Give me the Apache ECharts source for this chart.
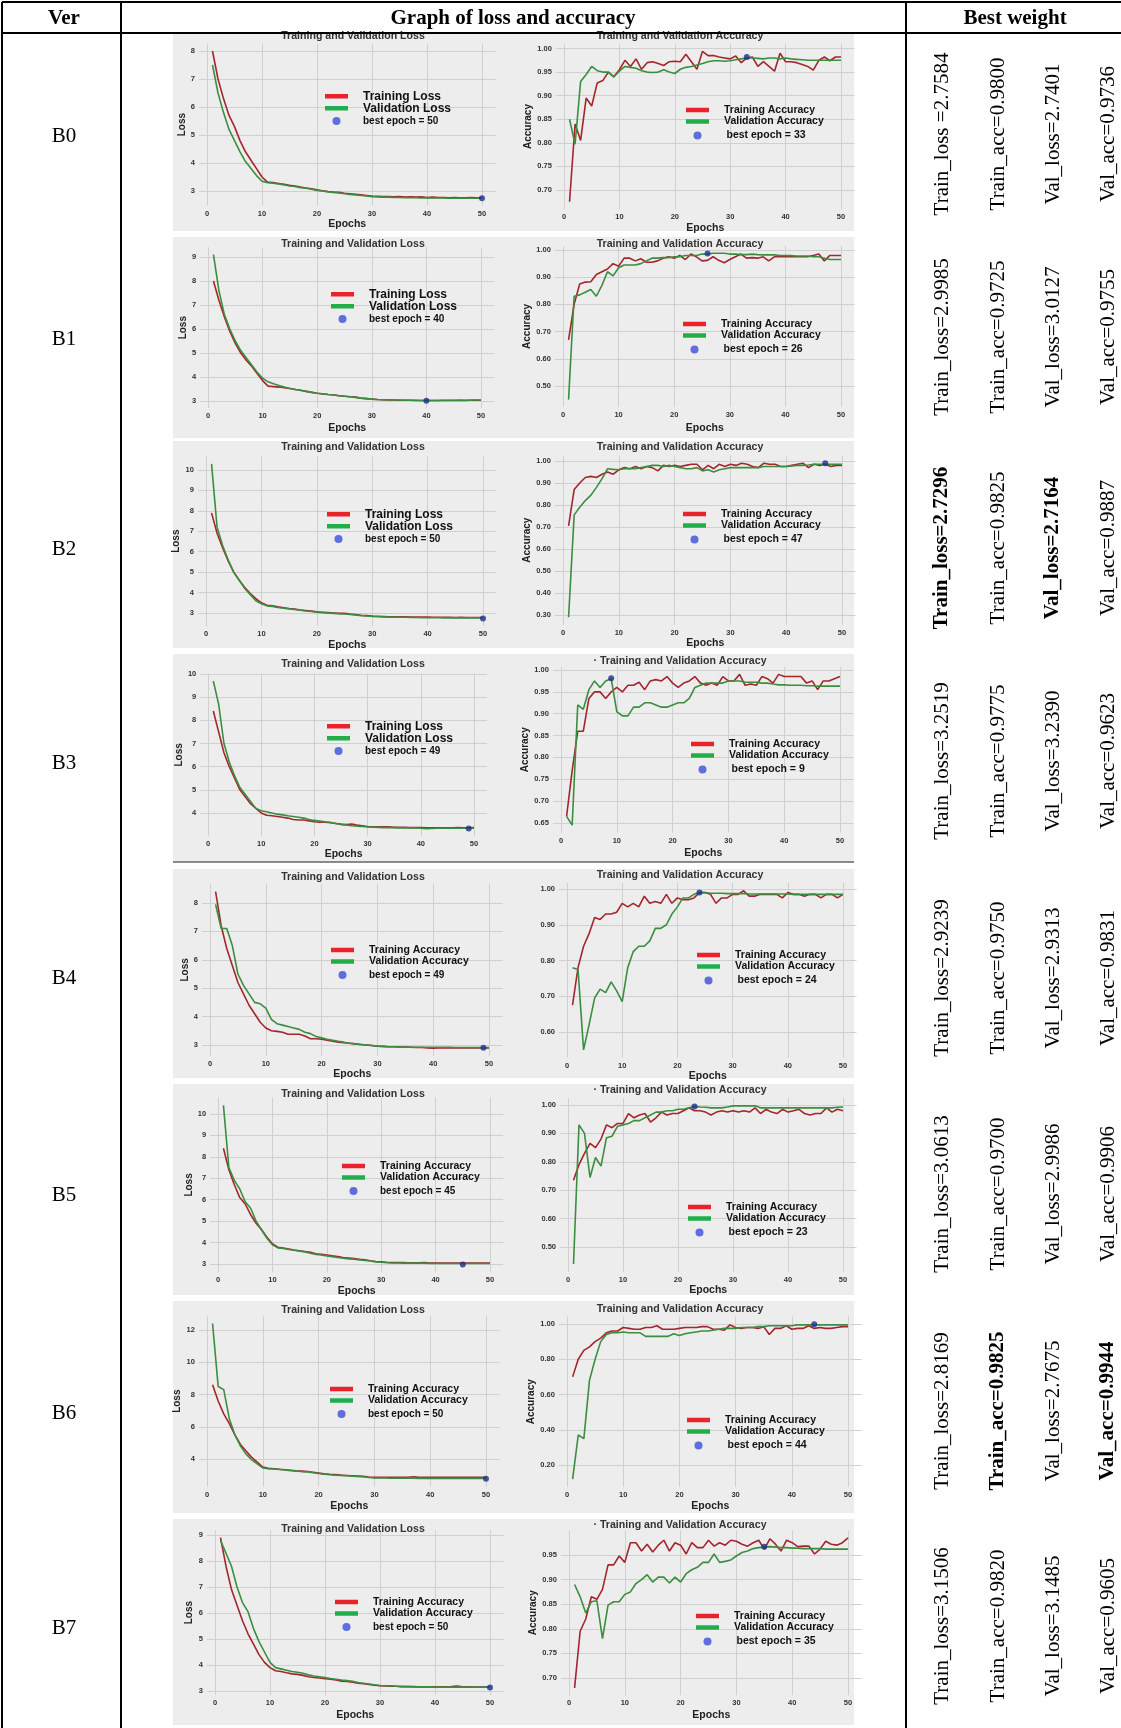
<!DOCTYPE html>
<html><head><meta charset="utf-8">
<script src="https://cdn.jsdelivr.net/npm/echarts@6/dist/echarts.min.js"></script>
<style>html,body{margin:0;padding:0;background:#fff}#c{width:1121px;height:1728px}</style>
</head><body><div id="c"></div>
<script>
// ---------------- data ----------------
const epochs = [1,2,3,4,5,6,7,8,9,10,11,12,13,14,15,16,17,18,19,20,21,22,23,24,25,26,27,28,29,30,31,32,33,34,35,36,37,38,39,40,41,42,43,44,45,46,47,48,49,50];
const versions = ['B0','B1','B2','B3','B4','B5','B6','B7'];
const xTicks = [0,10,20,30,40,50];

const b0TrainLoss = [8.0,7.0,6.3,5.7,5.3,4.8,4.4,4.1,3.8,3.5,3.32,3.3,3.27,3.24,3.2,3.18,3.14,3.11,3.08,3.04,3.01,2.98,2.96,2.95,2.92,2.9,2.88,2.86,2.84,2.82,2.81,2.8,2.8,2.79,2.8,2.78,2.79,2.78,2.79,2.77,2.78,2.77,2.77,2.76,2.77,2.76,2.76,2.77,2.76,2.76];
const b0ValLoss = [7.5,6.5,5.8,5.2,4.8,4.4,4.05,3.8,3.55,3.35,3.3,3.28,3.25,3.22,3.18,3.16,3.12,3.1,3.06,3.02,3.0,2.97,2.95,2.93,2.9,2.88,2.86,2.84,2.82,2.8,2.79,2.78,2.78,2.77,2.77,2.76,2.76,2.76,2.75,2.75,2.75,2.75,2.75,2.74,2.74,2.74,2.74,2.74,2.74,2.74];
const b0TrainAcc = [0.675,0.84,0.805,0.895,0.878,0.927,0.932,0.95,0.94,0.955,0.975,0.962,0.978,0.956,0.97,0.972,0.968,0.964,0.972,0.973,0.972,0.988,0.972,0.956,0.994,0.985,0.985,0.982,0.98,0.978,0.984,0.97,0.98,0.982,0.962,0.972,0.962,0.952,0.99,0.972,0.972,0.97,0.966,0.962,0.954,0.975,0.982,0.974,0.982,0.982];
const b0ValAcc = [0.85,0.797,0.93,0.945,0.962,0.953,0.95,0.95,0.94,0.952,0.962,0.96,0.958,0.953,0.95,0.949,0.95,0.955,0.95,0.947,0.956,0.96,0.962,0.965,0.968,0.972,0.974,0.974,0.973,0.974,0.976,0.978,0.98,0.98,0.979,0.978,0.98,0.98,0.978,0.98,0.978,0.977,0.976,0.975,0.975,0.975,0.975,0.975,0.975,0.975];

const b1TrainLoss = [8.0,7.2,6.5,5.9,5.4,5.0,4.7,4.45,4.15,3.85,3.62,3.6,3.58,3.55,3.52,3.48,3.45,3.4,3.36,3.32,3.29,3.27,3.26,3.22,3.2,3.18,3.16,3.12,3.1,3.08,3.06,3.05,3.04,3.04,3.03,3.03,3.03,3.02,3.02,3.02,3.02,3.02,3.02,3.02,3.02,3.03,3.02,3.03,3.03,3.03];
const b1ValLoss = [9.1,7.6,6.6,6.0,5.5,5.1,4.8,4.5,4.2,3.95,3.8,3.72,3.65,3.58,3.52,3.48,3.44,3.4,3.36,3.32,3.3,3.27,3.25,3.22,3.2,3.18,3.15,3.12,3.1,3.08,3.06,3.05,3.05,3.04,3.04,3.03,3.03,3.03,3.02,3.02,3.02,3.02,3.03,3.03,3.03,3.03,3.03,3.03,3.04,3.04];
const b1TrainAcc = [0.67,0.8,0.875,0.882,0.883,0.91,0.92,0.93,0.95,0.94,0.97,0.97,0.96,0.968,0.955,0.955,0.96,0.97,0.975,0.97,0.98,0.965,0.985,0.975,0.96,0.962,0.975,0.962,0.953,0.965,0.975,0.985,0.97,0.972,0.97,0.975,0.96,0.975,0.975,0.975,0.975,0.975,0.975,0.975,0.98,0.985,0.96,0.98,0.98,0.98];
const b1ValAcc = [0.45,0.83,0.835,0.845,0.855,0.83,0.87,0.92,0.905,0.935,0.945,0.945,0.945,0.95,0.96,0.97,0.97,0.972,0.972,0.975,0.975,0.98,0.98,0.98,0.985,0.985,0.988,0.988,0.988,0.985,0.985,0.983,0.983,0.985,0.983,0.982,0.982,0.982,0.98,0.98,0.98,0.978,0.978,0.978,0.975,0.975,0.97,0.965,0.965,0.965];

const b2TrainLoss = [7.9,6.9,6.2,5.55,5.0,4.6,4.25,3.95,3.7,3.5,3.38,3.35,3.3,3.26,3.22,3.19,3.15,3.12,3.09,3.06,3.04,3.02,3.0,2.98,2.99,2.95,2.92,2.89,2.87,2.85,2.84,2.83,2.82,2.82,2.81,2.81,2.8,2.8,2.8,2.8,2.79,2.79,2.79,2.79,2.78,2.79,2.78,2.78,2.78,2.78];
const b2ValLoss = [10.3,7.2,6.3,5.6,5.0,4.6,4.2,3.9,3.6,3.45,3.35,3.32,3.27,3.23,3.2,3.17,3.14,3.1,3.07,3.04,3.02,3.0,2.98,2.96,2.95,2.93,2.9,2.87,2.85,2.83,2.82,2.81,2.8,2.8,2.79,2.79,2.78,2.78,2.77,2.77,2.77,2.77,2.76,2.76,2.76,2.76,2.76,2.76,2.76,2.76];
const b2TrainAcc = [0.705,0.87,0.9,0.925,0.93,0.925,0.94,0.95,0.94,0.96,0.97,0.965,0.975,0.965,0.975,0.97,0.955,0.98,0.975,0.98,0.975,0.98,0.985,0.985,0.96,0.98,0.965,0.985,0.975,0.985,0.98,0.99,0.985,0.975,0.97,0.99,0.985,0.985,0.975,0.975,0.98,0.985,0.99,0.97,0.985,0.98,0.985,0.975,0.98,0.98];
const b2ValAcc = [0.29,0.755,0.79,0.82,0.845,0.88,0.92,0.965,0.962,0.96,0.965,0.965,0.965,0.97,0.975,0.98,0.98,0.975,0.98,0.975,0.97,0.965,0.965,0.97,0.955,0.96,0.95,0.96,0.965,0.97,0.97,0.97,0.97,0.97,0.97,0.975,0.975,0.975,0.975,0.975,0.978,0.98,0.98,0.982,0.985,0.985,0.985,0.985,0.985,0.985];

const b3TrainLoss = [8.4,7.5,6.6,6.0,5.5,5.0,4.7,4.4,4.2,4.0,3.9,3.88,3.85,3.82,3.78,3.72,3.7,3.7,3.66,3.62,3.6,3.6,3.58,3.55,3.52,3.5,3.52,3.48,3.45,3.42,3.4,3.4,3.4,3.4,3.38,3.38,3.38,3.37,3.37,3.37,3.36,3.36,3.36,3.36,3.36,3.36,3.37,3.36,3.36,3.37];
const b3ValLoss = [9.7,8.7,7.0,6.2,5.6,5.1,4.8,4.5,4.2,4.1,4.05,4.0,3.95,3.92,3.88,3.85,3.82,3.78,3.72,3.68,3.65,3.62,3.6,3.55,3.5,3.48,3.45,3.43,3.42,3.4,3.39,3.38,3.37,3.37,3.37,3.36,3.36,3.36,3.35,3.34,3.32,3.33,3.34,3.34,3.34,3.34,3.34,3.34,3.34,3.34];
const b3TrainAcc = [0.665,0.77,0.86,0.86,0.935,0.95,0.95,0.935,0.95,0.96,0.95,0.965,0.965,0.972,0.955,0.975,0.978,0.975,0.985,0.97,0.96,0.97,0.975,0.985,0.97,0.965,0.97,0.965,0.985,0.975,0.975,0.99,0.965,0.968,0.965,0.985,0.98,0.97,0.99,0.985,0.985,0.985,0.985,0.97,0.975,0.955,0.975,0.975,0.98,0.985];
const b3ValAcc = [0.665,0.645,0.92,0.91,0.955,0.975,0.96,0.975,0.98,0.905,0.895,0.895,0.915,0.915,0.925,0.925,0.92,0.915,0.915,0.92,0.925,0.925,0.935,0.96,0.965,0.97,0.97,0.97,0.97,0.975,0.975,0.975,0.972,0.972,0.972,0.97,0.97,0.968,0.966,0.966,0.965,0.965,0.965,0.964,0.964,0.963,0.963,0.963,0.963,0.963];

const b4TrainLoss = [8.4,7.2,6.4,5.8,5.2,4.8,4.4,4.1,3.8,3.6,3.5,3.48,3.45,3.38,3.38,3.38,3.32,3.22,3.22,3.2,3.17,3.13,3.1,3.08,3.06,3.04,3.02,3.0,2.98,2.96,2.95,2.94,2.94,2.93,2.93,2.92,2.91,2.91,2.9,2.89,2.9,2.9,2.9,2.9,2.9,2.9,2.9,2.9,2.9,2.9];
const b4ValLoss = [7.95,7.1,7.1,6.5,5.5,5.1,4.8,4.5,4.45,4.3,3.9,3.75,3.7,3.65,3.6,3.55,3.45,3.4,3.3,3.25,3.2,3.17,3.13,3.1,3.06,3.04,3.02,3.0,2.98,2.96,2.95,2.94,2.94,2.93,2.93,2.92,2.92,2.92,2.92,2.92,2.92,2.92,2.92,2.91,2.91,2.91,2.91,2.91,2.91,2.91];
const b4TrainAcc = [0.675,0.78,0.84,0.875,0.92,0.915,0.93,0.93,0.935,0.96,0.95,0.96,0.95,0.98,0.96,0.965,0.96,0.985,0.96,0.975,0.97,0.97,0.975,0.99,0.99,0.985,0.96,0.975,0.975,0.985,0.985,0.995,0.98,0.98,0.985,0.985,0.985,0.985,0.975,0.99,0.985,0.985,0.98,0.985,0.985,0.975,0.985,0.985,0.975,0.985];
const b4ValAcc = [0.78,0.775,0.55,0.62,0.695,0.72,0.71,0.74,0.715,0.685,0.78,0.825,0.84,0.84,0.855,0.89,0.89,0.9,0.93,0.95,0.975,0.975,0.985,0.99,0.99,0.988,0.988,0.988,0.987,0.987,0.987,0.987,0.986,0.986,0.986,0.986,0.986,0.986,0.986,0.986,0.985,0.985,0.985,0.985,0.985,0.985,0.985,0.985,0.985,0.985];

const b5TrainLoss = [8.4,7.4,6.7,6.1,5.8,5.3,4.9,4.6,4.25,3.95,3.78,3.75,3.7,3.65,3.62,3.58,3.55,3.48,3.45,3.42,3.38,3.35,3.3,3.28,3.25,3.22,3.2,3.15,3.12,3.1,3.08,3.07,3.07,3.07,3.06,3.06,3.06,3.07,3.05,3.05,3.05,3.05,3.05,3.05,3.04,3.04,3.04,3.04,3.04,3.04];
const b5ValLoss = [10.4,7.5,6.9,6.5,5.9,5.6,5.0,4.6,4.2,3.9,3.75,3.72,3.68,3.64,3.6,3.56,3.5,3.45,3.42,3.38,3.34,3.3,3.27,3.24,3.22,3.19,3.16,3.14,3.1,3.08,3.06,3.05,3.05,3.04,3.04,3.04,3.04,3.04,3.03,3.02,3.02,3.02,3.02,3.02,3.02,3.02,3.02,3.02,3.02,3.02];
const b5TrainAcc = [0.735,0.79,0.83,0.865,0.85,0.88,0.93,0.92,0.935,0.935,0.97,0.955,0.965,0.97,0.94,0.955,0.975,0.965,0.97,0.97,0.98,0.99,0.98,0.98,0.975,0.965,0.975,0.98,0.975,0.98,0.975,0.98,0.975,0.99,0.97,0.985,0.975,0.97,0.985,0.975,0.98,0.985,0.97,0.965,0.97,0.97,0.99,0.975,0.985,0.98];
const b5ValAcc = [0.44,0.93,0.9,0.745,0.815,0.785,0.885,0.89,0.925,0.93,0.935,0.945,0.945,0.955,0.965,0.975,0.975,0.98,0.98,0.985,0.985,0.99,0.995,0.993,0.992,0.99,0.99,0.99,0.993,0.997,0.997,0.997,0.997,0.997,0.99,0.99,0.99,0.99,0.99,0.99,0.99,0.99,0.99,0.99,0.99,0.99,0.99,0.99,0.992,0.993];

const b6TrainLoss = [8.6,7.6,6.8,6.2,5.5,4.9,4.5,4.1,3.8,3.5,3.42,3.4,3.36,3.33,3.3,3.27,3.25,3.22,3.18,3.13,3.08,3.05,3.03,3.0,2.98,2.96,2.94,2.92,2.88,2.86,2.86,2.86,2.86,2.86,2.86,2.87,2.9,2.86,2.86,2.86,2.86,2.86,2.86,2.86,2.86,2.86,2.86,2.86,2.86,2.86];
const b6ValLoss = [12.4,8.5,8.3,6.5,5.5,4.8,4.3,3.95,3.7,3.45,3.4,3.38,3.35,3.32,3.28,3.25,3.22,3.2,3.15,3.1,3.05,3.02,3.0,2.98,2.96,2.94,2.92,2.9,2.85,2.82,2.82,2.82,2.81,2.81,2.81,2.81,2.81,2.8,2.8,2.8,2.8,2.8,2.8,2.8,2.8,2.8,2.8,2.8,2.8,2.8];
const b6TrainAcc = [0.7,0.8,0.85,0.87,0.9,0.92,0.95,0.96,0.96,0.98,0.975,0.97,0.97,0.98,0.98,0.99,0.97,0.97,0.97,0.975,0.98,0.98,0.98,0.985,0.985,0.97,0.97,0.965,0.995,0.98,0.975,0.98,0.98,0.975,0.985,0.94,0.975,0.975,0.99,0.97,0.975,0.975,0.99,0.975,0.98,0.975,0.975,0.98,0.985,0.985];
const b6ValAcc = [0.12,0.37,0.35,0.68,0.8,0.9,0.94,0.95,0.95,0.955,0.95,0.95,0.95,0.93,0.93,0.93,0.93,0.93,0.945,0.935,0.945,0.95,0.955,0.96,0.96,0.965,0.97,0.975,0.975,0.975,0.98,0.98,0.98,0.985,0.985,0.99,0.99,0.99,0.99,0.99,0.995,0.995,0.995,0.995,0.995,0.995,0.995,0.995,0.995,0.995];

const b7TrainLoss = [8.9,7.8,6.9,6.3,5.7,5.2,4.8,4.4,4.1,3.9,3.78,3.75,3.7,3.66,3.64,3.6,3.55,3.52,3.5,3.47,3.45,3.42,3.38,3.37,3.34,3.3,3.28,3.25,3.22,3.2,3.19,3.18,3.18,3.17,3.17,3.17,3.16,3.16,3.16,3.16,3.16,3.16,3.17,3.19,3.16,3.16,3.15,3.15,3.15,3.15];
const b7ValLoss = [8.8,8.3,7.8,7.0,6.4,6.05,5.4,4.9,4.5,4.1,3.9,3.85,3.8,3.75,3.72,3.68,3.62,3.58,3.55,3.52,3.48,3.45,3.42,3.4,3.37,3.33,3.3,3.27,3.24,3.21,3.2,3.2,3.18,3.17,3.17,3.16,3.16,3.16,3.16,3.15,3.15,3.15,3.15,3.15,3.15,3.15,3.15,3.15,3.15,3.15];
const b7TrainAcc = [0.68,0.795,0.82,0.865,0.86,0.88,0.93,0.93,0.948,0.935,0.975,0.975,0.958,0.972,0.956,0.97,0.98,0.958,0.975,0.97,0.952,0.975,0.965,0.965,0.98,0.968,0.975,0.97,0.98,0.978,0.972,0.968,0.975,0.98,0.962,0.983,0.972,0.958,0.98,0.975,0.967,0.968,0.968,0.952,0.962,0.978,0.972,0.97,0.975,0.985];
const b7ValAcc = [0.89,0.865,0.832,0.855,0.857,0.78,0.848,0.855,0.855,0.87,0.875,0.892,0.9,0.91,0.895,0.905,0.905,0.893,0.905,0.895,0.912,0.92,0.925,0.935,0.935,0.952,0.935,0.937,0.94,0.948,0.955,0.958,0.963,0.965,0.966,0.967,0.966,0.965,0.965,0.964,0.964,0.963,0.963,0.963,0.963,0.962,0.962,0.962,0.962,0.962];

const bestLossEpoch = [50,40,50,49,49,45,50,50];
const bestLossValue = [2.74,3.01,2.73,3.33,2.9,2.98,2.77,3.13];
const bestAccEpoch = [33,26,47,9,24,23,44,35];
const bestAccValue = [0.982,0.987,0.99,0.981,0.99,0.995,0.998,0.967];

const lossTicks = [[3,4,5,6,7,8],[3,4,5,6,7,8,9],[3,4,5,6,7,8,9,10],[4,5,6,7,8,9,10],[3,4,5,6,7,8],[3,4,5,6,7,8,9,10],[4,6,8,10,12],[3,4,5,6,7,8,9]];
const accTicks = [[0.70,0.75,0.80,0.85,0.90,0.95,1.00],[0.50,0.60,0.70,0.80,0.90,1.00],[0.30,0.40,0.50,0.60,0.70,0.80,0.90,1.00],[0.65,0.70,0.75,0.80,0.85,0.90,0.95,1.00],[0.60,0.70,0.80,0.90,1.00],[0.50,0.60,0.70,0.80,0.90,1.00],[0.20,0.40,0.60,0.80,1.00],[0.70,0.75,0.80,0.85,0.90,0.95]];

const trainLossText = ['Train_loss =2.7584','Train_loss=2.9985','Train_loss=2.7296','Train_loss=3.2519','Train_loss=2.9239','Train_loss=3.0613','Train_loss=2.8169','Train_loss=3.1506'];
const trainAccText = ['Train_acc=0.9800','Train_acc=0.9725','Train_acc=0.9825','Train_acc=0.9775','Train_acc=0.9750','Train_acc=0.9700','Train_acc=0.9825','Train_acc=0.9820'];
const valLossText = ['Val_loss=2.7401','Val_loss=3.0127','Val_loss=2.7164','Val_loss=3.2390','Val_loss=2.9313','Val_loss=2.9986','Val_loss=2.7675','Val_loss=3.1485'];
const valAccText = ['Val_acc=0.9736','Val_acc=0.9755','Val_acc=0.9887','Val_acc=0.9623','Val_acc=0.9831','Val_acc=0.9906','Val_acc=0.9944','Val_acc=0.9605'];
const boldCells = [[],[],[0,2],[],[],[],[1,3],[]];

// ---------------- layout (pixels) ----------------
const SANS = '"Liberation Sans", Arial, sans-serif';
const SERIF = '"Liberation Serif", "Times New Roman", serif';
const rowImg = [[33,231],[237,438],[441,648],[654,862],[869,1078],[1084,1295],[1301,1513],[1519,1725]];
const lossX = [[207,482],[208,481],[206,483],[208,474],[210,489],[218,490],[207,486],[215,490]];
const accX = [[564,841],[563,841],[563,842],[561,840],[567,843],[568,843],[567,848],[569,848]];
const lossYA = [[8,51,3,191],[9,257,3,401],[10,470,3,613],[10,674,4,813],[8,903,3,1045],[10,1114,3,1264],[12,1330,4,1459],[9,1535,3,1691]];
const accYA = [[1,48.5,0.7,190],[1,250,0.5,386],[1,461,0.3,615],[1,670,0.65,823],[1,889,0.6,1032],[1,1105,0.5,1247],[1,1324,0.2,1465],[0.95,1555,0.7,1678]];
const titleY = [[36,36],[244,244],[447,447],[664,661],[877,875],[1094,1090],[1310,1309],[1529,1525]];
const epochsY = [225,429,643,854,1071,1290,1507,1716];
const lossNameX = [183,184,182,183,188,192,182,188];
const accNameX = [529,529,529,527,0,0,533,533];
const lossLeg = [[325,96],[331,294],[327,514],[327,726],[331,950],[342,1166],[330,1389],[335,1602]];
const accLeg = [[686,110],[683,324],[683,514],[691,744],[697,955],[688,1207],[687,1420],[696,1616]];
const verY = [136,339,549,763,978,1195,1413,1628];
const bwX = [942,998,1053,1108];
const bwY = [134,337,548,761,978,1194,1411,1626];

const trainLossSets = [b0TrainLoss,b1TrainLoss,b2TrainLoss,b3TrainLoss,b4TrainLoss,b5TrainLoss,b6TrainLoss,b7TrainLoss];
const valLossSets = [b0ValLoss,b1ValLoss,b2ValLoss,b3ValLoss,b4ValLoss,b5ValLoss,b6ValLoss,b7ValLoss];
const trainAccSets = [b0TrainAcc,b1TrainAcc,b2TrainAcc,b3TrainAcc,b4TrainAcc,b5TrainAcc,b6TrainAcc,b7TrainAcc];
const valAccSets = [b0ValAcc,b1ValAcc,b2ValAcc,b3ValAcc,b4ValAcc,b5ValAcc,b6ValAcc,b7ValAcc];

const grids=[], xAxes=[], yAxes=[], series=[], legends=[], graphics=[];
const GRID_COLOR = '#d0d0d0';

function addPanel(r, kind) {
  const idx = grids.length;
  const isLoss = kind === 'loss';
  const train = isLoss ? trainLossSets[r] : trainAccSets[r];
  const val = isLoss ? valLossSets[r] : valAccSets[r];
  const bE = isLoss ? bestLossEpoch[r] : bestAccEpoch[r];
  const bV = isLoss ? bestLossValue[r] : bestAccValue[r];
  const ticks = isLoss ? lossTicks[r] : accTicks[r];
  const dec = isLoss ? 0 : 2;
  const xa = isLoss ? lossX[r] : accX[r];
  const ya = isLoss ? lossYA[r] : accYA[r];
  const all = train.concat(val, [bV]);
  const lo = Math.min.apply(null, all), hi = Math.max.apply(null, all);
  const pad = (hi - lo) * 0.05;
  const ymin = lo - pad, ymax = hi + pad;
  const k = (ya[3] - ya[1]) / (ya[0] - ya[2]);
  const top = ya[1] - (ymax - ya[0]) * k;
  const height = (ymax - ymin) * k;
  const u = (xa[1] - xa[0]) / 50;
  const left = xa[0] - 1.45 * u;
  const width = 53.9 * u;
  grids.push({left: left, top: top, width: width, height: height, show: false});
  const bottom = top + height;
  const eGap = Math.max(8, epochsY[r] - bottom - 6);
  xAxes.push({
    gridIndex: idx, type: 'value', min: -1.45, max: 52.45,
    axisLine: {show: false, onZero: false},
    axisTick: {show: false, customValues: xTicks},
    axisLabel: {customValues: xTicks, fontSize: 7.5, fontWeight: 'bold', color: '#333', margin: 4, fontFamily: SANS},
    splitLine: {show: true, customValues: xTicks, lineStyle: {color: GRID_COLOR, width: 1}},
    name: 'Epochs', nameLocation: 'middle', nameGap: eGap,
    nameTextStyle: {fontSize: 10.5, fontWeight: 'bold', color: '#222', fontFamily: SANS}
  });
  const nameX = isLoss ? lossNameX[r] : accNameX[r];
  const yName = nameX ? (isLoss ? 'Loss' : 'Accuracy') : '';
  yAxes.push({
    gridIndex: idx, type: 'value', min: ymin, max: ymax,
    axisLine: {show: false, onZero: false},
    axisTick: {show: false, customValues: ticks},
    axisLabel: {customValues: ticks, fontSize: 7.5, fontWeight: 'bold', color: '#333', margin: 4, fontFamily: SANS,
      formatter: function (v) { return Number(v).toFixed(dec); }},
    splitLine: {show: true, customValues: ticks, lineStyle: {color: GRID_COLOR, width: 1}},
    name: yName, nameLocation: 'middle', nameRotate: 90, nameGap: Math.max(4, left - nameX - 6),
    nameTextStyle: {fontSize: 10, fontWeight: 'bold', color: '#222', fontFamily: SANS}
  });
  const tName = (isLoss && r < 4) ? 'Training Loss' : 'Training Accuracy';
  const vName = (isLoss && r < 4) ? 'Validation Loss' : 'Validation Accuracy';
  const bName = 'best epoch = ' + bE;
  series.push({
    type: 'line', name: tName, xAxisIndex: idx, yAxisIndex: idx, symbol: 'none',
    data: epochs.map(function (e, j) { return [e, train[j]]; }),
    lineStyle: {color: '#a3262c', width: 1.6}, itemStyle: {color: '#a3262c'}, z: 3, silent: true
  });
  series.push({
    type: 'line', name: vName, xAxisIndex: idx, yAxisIndex: idx, symbol: 'none',
    data: epochs.map(function (e, j) { return [e, val[j]]; }),
    lineStyle: {color: '#3b8e3f', width: 1.6}, itemStyle: {color: '#3b8e3f'}, z: 3, silent: true
  });
  series.push({
    type: 'scatter', name: bName, xAxisIndex: idx, yAxisIndex: idx, symbolSize: 6,
    data: [[bE, bV]], itemStyle: {color: '#1d2f8c'}, z: 5, silent: true
  });
  const lg = isLoss ? lossLeg[r] : accLeg[r];
  const legFont = (isLoss && r < 4) ? 12 : 10.5;
  const bestFont = isLoss ? 10 : 10.5;
  legends.push({
    orient: 'vertical', left: lg[0], top: lg[1] - 5.75, padding: 0, itemGap: 0,
    itemWidth: 23, itemHeight: 4.5, selectedMode: false, icon: 'rect',
    textStyle: {fontSize: legFont, fontWeight: 'bold', color: '#111', fontFamily: SANS, lineHeight: 11.5, padding: [0, 0, 0, 10]},
    data: [{name: tName, itemStyle: {color: '#e8232b'}}, {name: vName, itemStyle: {color: '#22ad4b'}}]
  });
  legends.push({
    orient: 'vertical', left: lg[0] + 7.5, top: lg[1] + 25 - 5, padding: 0, itemGap: 0,
    itemWidth: 8, itemHeight: 8, selectedMode: false, icon: 'circle',
    textStyle: {fontSize: bestFont, fontWeight: 'bold', color: '#111', fontFamily: SANS, lineHeight: 10, padding: [0, 0, 0, isLoss ? 17.5 : 20]},
    data: [{name: bName, itemStyle: {color: '#3a4fd8'}}]
  });
  const tText = isLoss ? 'Training and Validation Loss' : ((r === 3 || r === 5 || r === 7) ? '· Training and Validation Accuracy' : 'Training and Validation Accuracy');
  graphics.push({
    type: 'text', x: isLoss ? 353 : 680, y: titleY[r][isLoss ? 0 : 1], z: 10,
    style: {text: tText, fontSize: 10.6, fontWeight: 'bold', fontFamily: SANS, fill: '#333', align: 'center', verticalAlign: 'middle'}
  });
}

// panel backgrounds
rowImg.forEach(function (ri) {
  graphics.push({type: 'rect', shape: {x: 173, y: ri[0], width: 681, height: ri[1] - ri[0]}, style: {fill: '#ededed'}, z: -10});
});
graphics.push({type: 'line', shape: {x1: 173, y1: 862, x2: 854, y2: 862}, style: {stroke: '#666', lineWidth: 1.5}, z: -5});

for (let r = 0; r < 8; r++) { addPanel(r, 'loss'); addPanel(r, 'acc'); }

// table lines
const tl = [[2,2,1121,2],[2,33,1121,33],[2,2,2,1728],[121,2,121,1728],[906,2,906,1728]];
tl.forEach(function (l) {
  graphics.push({type: 'line', shape: {x1: l[0], y1: l[1], x2: l[2], y2: l[3]}, style: {stroke: '#000', lineWidth: 2}, z: 20});
});
// header
[['Ver', 64], ['Graph of loss and accuracy', 513], ['Best weight', 1015]].forEach(function (h) {
  graphics.push({type: 'text', x: h[1], y: 19, z: 20, style: {text: h[0], fontSize: 21, fontWeight: 'bold', fontFamily: SERIF, fill: '#000', align: 'center', verticalAlign: 'middle'}});
});
// version labels
versions.forEach(function (v, r) {
  graphics.push({type: 'text', x: 64, y: verY[r], z: 20, style: {text: v, fontSize: 21, fontFamily: SERIF, fill: '#000', align: 'center', verticalAlign: 'middle'}});
});
// best weight rotated texts
const bwCols = [trainLossText, trainAccText, valLossText, valAccText];
for (let r = 0; r < 8; r++) {
  for (let c = 0; c < 4; c++) {
    const bold = boldCells[r].indexOf(c) >= 0;
    graphics.push({type: 'text', x: bwX[c], y: bwY[r], rotation: Math.PI / 2, z: 20,
      style: {text: bwCols[c][r], fontSize: 21, fontWeight: bold ? 'bold' : 'normal', fontFamily: SERIF, fill: '#000', align: 'center', verticalAlign: 'middle'}});
  }
}

const chart = echarts.init(document.getElementById('c'), null, {renderer: 'canvas'});
chart.setOption({
  animation: false,
  backgroundColor: '#ffffff',
  grid: grids, xAxis: xAxes, yAxis: yAxes, series: series, legend: legends,
  graphic: {elements: graphics}
});
</script></body></html>
